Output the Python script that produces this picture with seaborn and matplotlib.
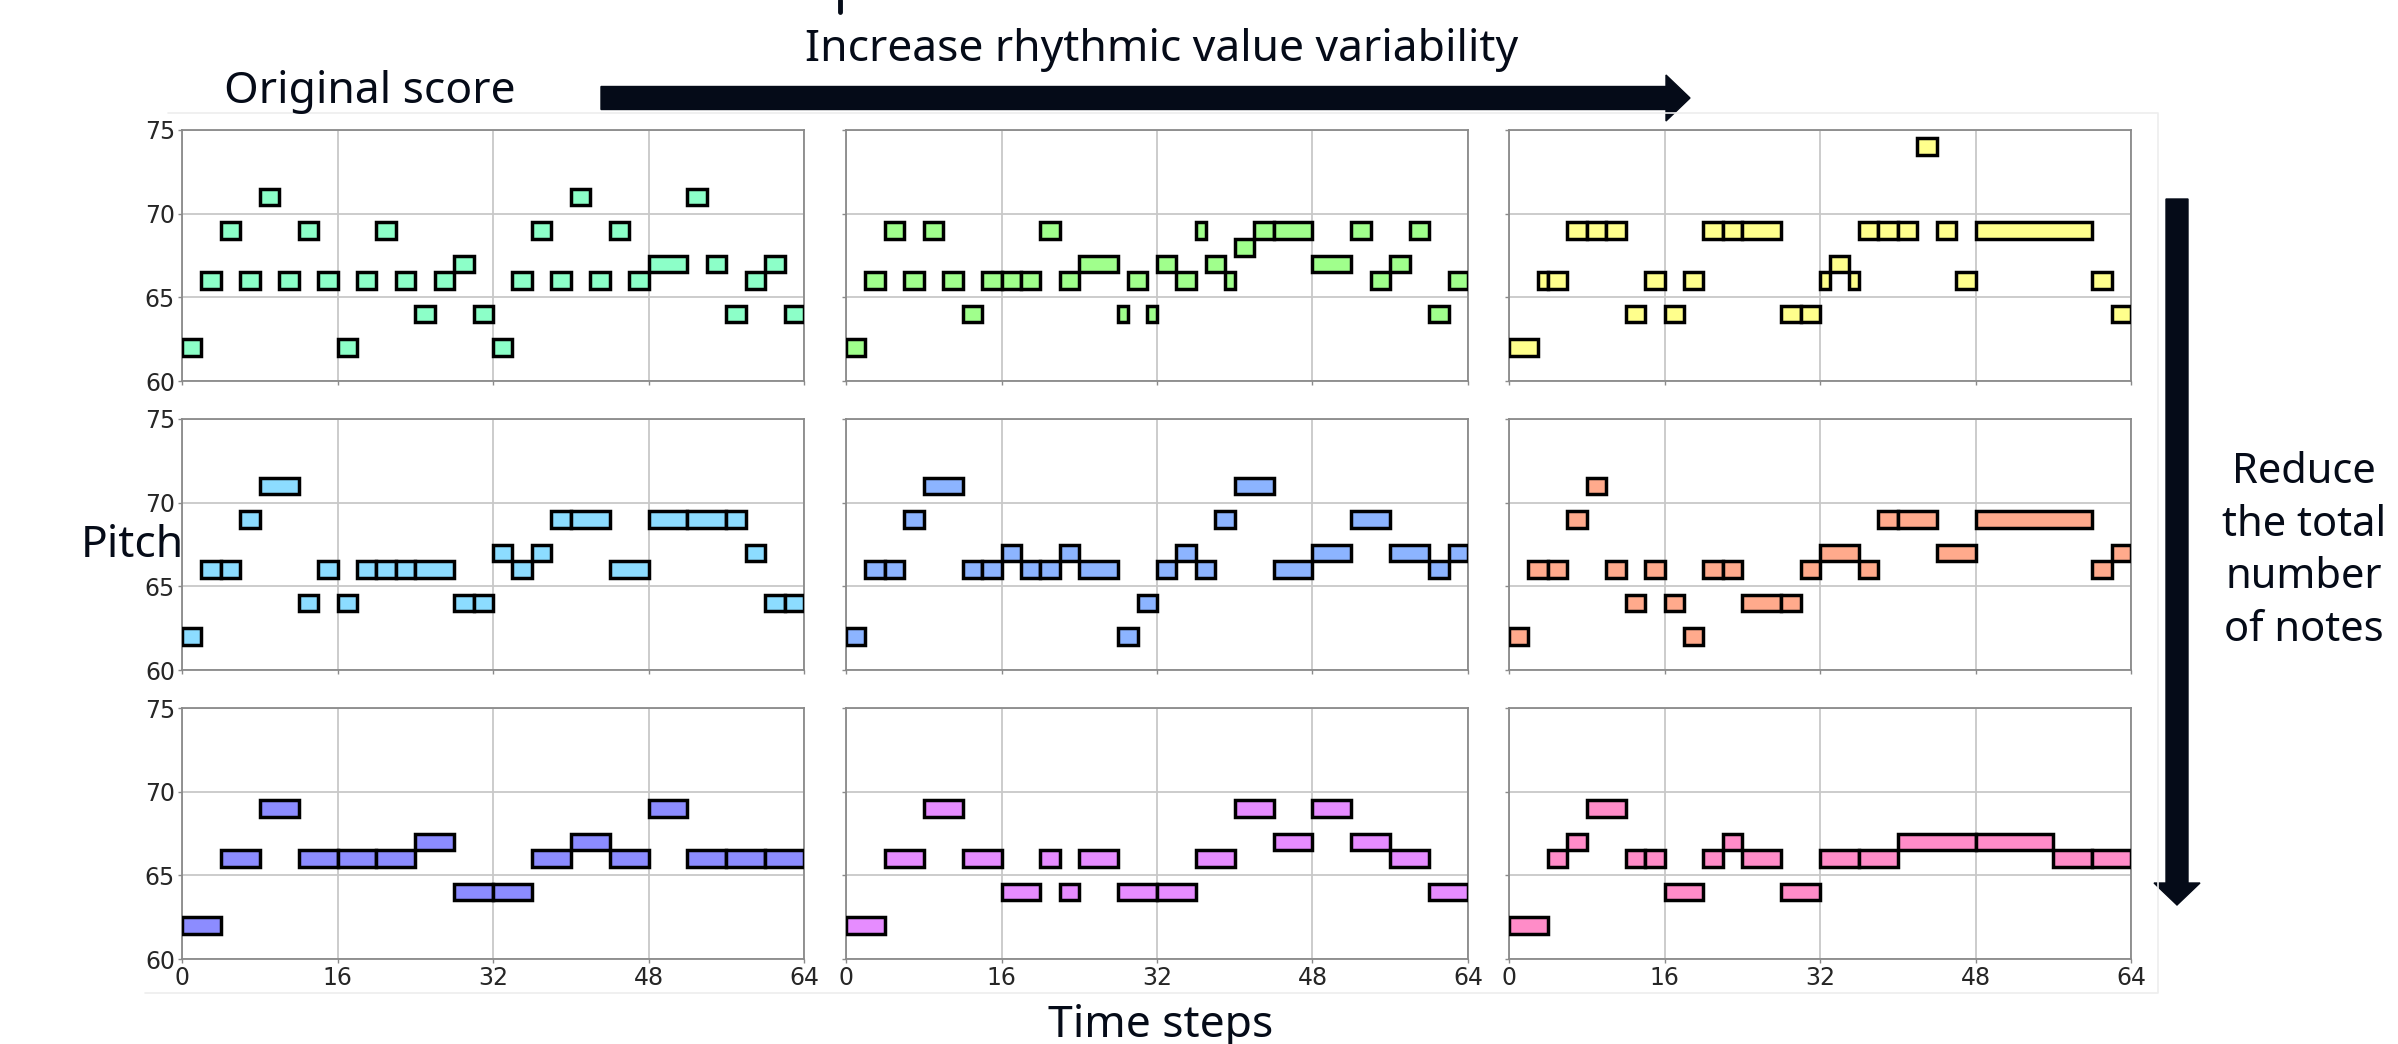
import numpy as np
import matplotlib.pyplot as plt
import matplotlib.patches as mpatches
import seaborn as sns

# piano rolls: pitch of each note and its length in time steps (notes follow each other)
# row 1 (most notes)
r1c1_pitch = [62, 66, 69, 66, 71, 66, 69, 66, 62, 66, 69, 66, 64, 66, 67, 64,
              62, 66, 69, 66, 71, 66, 69, 66, 67, 71, 67, 64, 66, 67, 64]
r1c1_dur = [2] * 24 + [4] + [2] * 6

r1c2_pitch = [62, 66, 69, 66, 69, 66, 64, 66, 66, 66, 69, 66, 67, 64, 66, 64,
              67, 66, 69, 67, 66, 68, 69, 69, 67, 69, 66, 67, 69, 64, 66]
r1c2_dur = [2, 2, 2, 2, 2, 2, 2, 2, 2, 2, 2, 2, 4, 1, 2, 1,
            2, 2, 1, 2, 1, 2, 2, 4, 4, 2, 2, 2, 2, 2, 2]

r1c3_pitch = [62, 66, 66, 69, 69, 69, 64, 66, 64, 66, 69, 69, 69, 64, 64, 66,
              67, 66, 69, 69, 69, 74, 69, 66, 69, 66, 64]
r1c3_dur = [3, 1, 2, 2, 2, 2, 2, 2, 2, 2, 2, 2, 4, 2, 2, 1,
            2, 1, 2, 2, 2, 2, 2, 2, 12, 2, 2]

# row 2
r2c1_pitch = [62, 66, 66, 69, 71, 64, 66, 64, 66, 66, 66, 66, 64, 64, 67, 66,
              67, 69, 69, 66, 69, 69, 69, 67, 64, 64]
r2c1_dur = [2, 2, 2, 2, 4, 2, 2, 2, 2, 2, 2, 4, 2, 2, 2, 2,
            2, 2, 4, 4, 4, 4, 2, 2, 2, 2]

r2c2_pitch = [62, 66, 66, 69, 71, 66, 66, 67, 66, 66, 67, 66, 62, 64, 66, 67,
              66, 69, 71, 66, 67, 69, 67, 66, 67]
r2c2_dur = [2, 2, 2, 2, 4, 2, 2, 2, 2, 2, 2, 4, 2, 2, 2, 2,
            2, 2, 4, 4, 4, 4, 4, 2, 2]

r2c3_pitch = [62, 66, 66, 69, 71, 66, 64, 66, 64, 62, 66, 66, 64, 64, 66, 67,
              66, 69, 69, 67, 69, 66, 67]
r2c3_dur = [2, 2, 2, 2, 2, 2, 2, 2, 2, 2, 2, 2, 4, 2, 2, 4,
            2, 2, 4, 4, 12, 2, 2]

# row 3 (fewest notes)
r3c1_pitch = [62, 66, 69, 66, 66, 66, 67, 64, 64, 66, 67, 66, 69, 66, 66, 66]
r3c1_dur = [4] * 16

r3c2_pitch = [62, 66, 69, 66, 64, 66, 64, 66, 64, 64, 66, 69, 67, 69, 67, 66, 64]
r3c2_dur = [4, 4, 4, 4, 4, 2, 2, 4, 4, 4, 4, 4, 4, 4, 4, 4, 4]

r3c3_pitch = [62, 66, 67, 69, 66, 66, 64, 66, 67, 66, 64, 66, 66, 67, 67, 66, 66]
r3c3_dur = [4, 2, 2, 4, 2, 2, 4, 2, 2, 4, 4, 4, 4, 8, 8, 4, 4]

roll_colors = [['#8cffc8', '#a0ff8c', '#ffff8c'],
               ['#8cdcff', '#8cb4ff', '#ffaa8c'],
               ['#8c8cff', '#e68cff', '#ff8cc8']]

rolls = [[(r1c1_pitch, r1c1_dur), (r1c2_pitch, r1c2_dur), (r1c3_pitch, r1c3_dur)],
         [(r2c1_pitch, r2c1_dur), (r2c2_pitch, r2c2_dur), (r2c3_pitch, r2c3_dur)],
         [(r3c1_pitch, r3c1_dur), (r3c2_pitch, r3c2_dur), (r3c3_pitch, r3c3_dur)]]

x_ticks = [0, 16, 32, 48, 64]
y_ticks = [60, 65, 70, 75]

sns.set_style('whitegrid', {'grid.color': '#c8c8c8', 'axes.edgecolor': '#8a8a8a'})
plt.rcParams['font.family'] = ['DejaVu Sans']
label_font = ['Noto Sans', 'DejaVu Sans']
ink = '#050b18'

W, H = 2398, 1044
fig = plt.figure(figsize=(W / 100, H / 100), dpi=100)

col_left = [182, 846, 1509]
row_top = [130, 419, 708]
ax_w, ax_h = 622, 251

for i in range(3):
    for j in range(3):
        ax = fig.add_axes([col_left[j] / W, 1 - (row_top[i] + ax_h) / H, ax_w / W, ax_h / H])
        pitch, dur = rolls[i][j]
        dur = np.array(dur)
        onset = np.concatenate([[0], np.cumsum(dur)[:-1]])
        ax.barh(pitch, dur, left=onset, height=1, align='center',
                color=roll_colors[i][j], edgecolor='black', linewidth=2.5, zorder=3)
        ax.set_xlim(0, 64)
        ax.set_ylim(60, 75)
        ax.set_xticks(x_ticks)
        ax.set_yticks(y_ticks)
        ax.grid(True, linewidth=1.3, color='#c8c8c8', zorder=0)
        for s in ax.spines.values():
            s.set_linewidth(1.3)
            s.set_color('#8a8a8a')
        ax.tick_params(length=3, width=1, color='#8a8a8a', labelsize=17, pad=2,
                       bottom=True, left=True)
        if j > 0:
            ax.set_yticklabels([])
        if i < 2:
            ax.set_xticklabels([])

# overlay in pixel coordinates for the annotations
ov = fig.add_axes([0, 0, 1, 1], zorder=-1)
ov.set_xlim(0, W)
ov.set_ylim(H, 0)
ov.axis('off')

# faint frame of the embedded figure
ov.plot([168, 2158, 2158, 145], [113, 113, 993, 993], color='#eeeeee', linewidth=1.2)
# cropped glyph at the very top
ov.plot([840, 840], [0, 12], color=ink, linewidth=3.5)

ov.add_patch(mpatches.FancyArrow(601, 98, 1690 - 601, 0, width=23, head_width=46,
                                 head_length=24, length_includes_head=True, color=ink))
ov.add_patch(mpatches.FancyArrow(2177, 199, 0, 905 - 199, width=22, head_width=46,
                                 head_length=22, length_includes_head=True, color=ink))

ov.text(370, 92, 'Original score', fontsize=32, family=label_font, color=ink,
        ha='center', va='center')
ov.text(1162, 50, 'Increase rhythmic value variability', fontsize=32, family=label_font,
        color=ink, ha='center', va='center')
ov.text(132, 546, 'Pitch', fontsize=32, family=label_font, color=ink, ha='center', va='center')
ov.text(1161, 1026, 'Time steps', fontsize=32, family=label_font, color=ink,
        ha='center', va='center')
ov.text(2304, 551, 'Reduce\nthe total\nnumber\nof notes', fontsize=30, family=label_font,
        color=ink, ha='center', va='center', linespacing=1.34)

fig.savefig('out.png', dpi=100)
